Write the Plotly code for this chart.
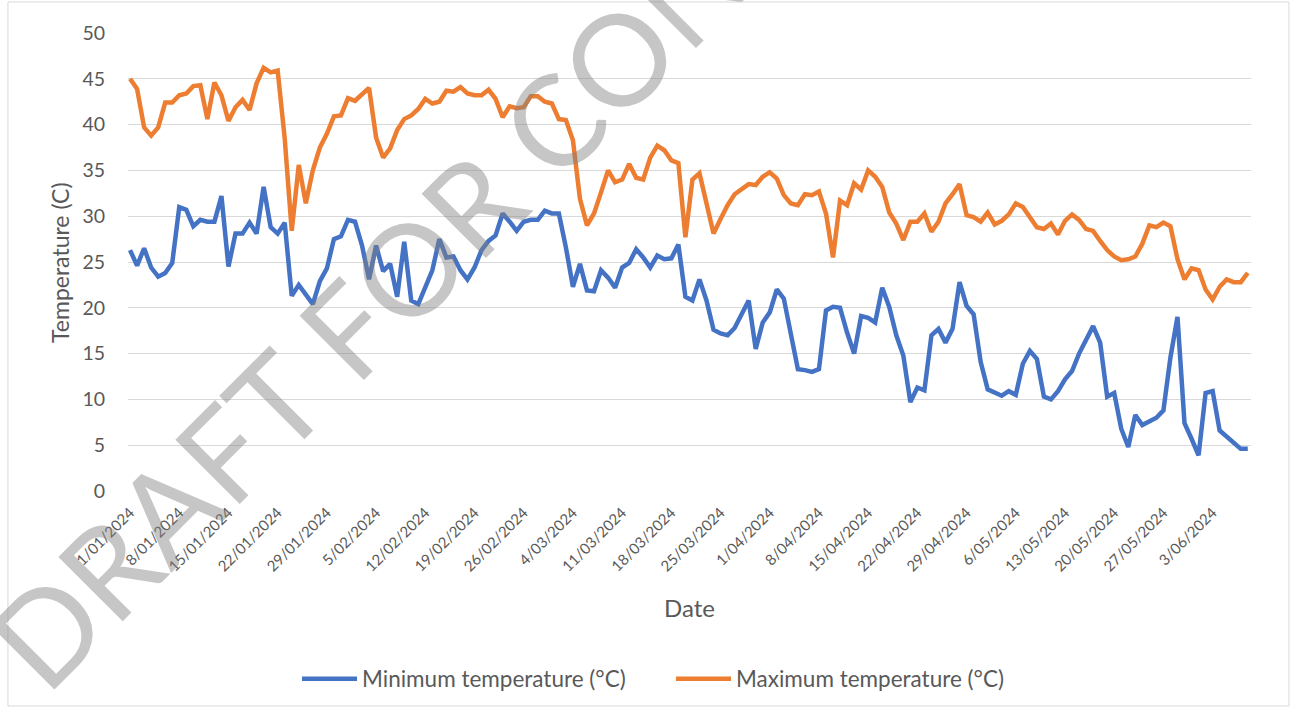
import datetime as dt
import plotly.graph_objects as go

start_date = dt.date(2024, 1, 1)

min_temp = [
    26.3, 24.6, 26.5, 24.4, 23.4, 23.8, 24.9, 31.0, 30.7, 28.9,
    29.6, 29.4, 29.4, 32.2, 24.5, 28.1, 28.1, 29.3, 28.1, 33.2,
    28.8, 28.1, 29.3, 21.3, 22.5, 21.5, 20.4, 22.9, 24.3, 27.5,
    27.8, 29.6, 29.4, 26.8, 23.1, 26.8, 24.0, 24.8, 21.2, 27.2,
    20.8, 20.4, 22.3, 24.1, 27.5, 25.5, 25.6, 24.1, 23.1, 24.4,
    26.3, 27.3, 27.9, 30.3, 29.4, 28.4, 29.4, 29.6, 29.6, 30.6,
    30.3, 30.3, 26.6, 22.3, 24.8, 21.9, 21.8, 24.1, 23.3, 22.2,
    24.4, 24.9, 26.4, 25.5, 24.4, 25.7, 25.3, 25.4, 26.9, 21.2,
    20.8, 23.1, 20.8, 17.6, 17.2, 17.0, 17.8, 19.2, 20.8, 15.5,
    18.4, 19.5, 22.0, 21.0, 17.2, 13.3, 13.2, 13.0, 13.3, 19.7,
    20.1, 20.0, 17.3, 15.0, 19.1, 18.9, 18.4, 22.2, 20.1, 17.0,
    14.8, 9.7, 11.3, 11.0, 17.0, 17.7, 16.2, 17.7, 22.8, 20.2,
    19.3, 14.1, 11.1, 10.7, 10.4, 10.9, 10.5, 13.9, 15.3, 14.4,
    10.3, 10.0, 10.9, 12.2, 13.1, 15.0, 16.6, 18.0, 16.2, 10.3,
    10.7, 6.8, 4.8, 8.3, 7.2, 7.6, 8.0, 8.8, 14.6, 19.0,
    7.4, 5.7, 3.9, 10.7, 10.9, 6.6, 5.9, 5.2, 4.6, 4.6,
]

max_temp = [
    45.0, 43.9, 39.7, 38.8, 39.7, 42.4, 42.4, 43.2, 43.4, 44.2,
    44.3, 40.6, 44.6, 43.2, 40.4, 41.9, 42.7, 41.6, 44.5, 46.2,
    45.7, 45.9, 38.5, 28.4, 35.6, 31.4, 35.0, 37.5, 39.0, 40.9,
    41.0, 42.9, 42.6, 43.3, 44.0, 38.6, 36.4, 37.4, 39.4, 40.6,
    41.0, 41.7, 42.8, 42.3, 42.5, 43.7, 43.6, 44.1, 43.4, 43.2,
    43.2, 43.8, 42.8, 40.8, 42.0, 41.8, 41.9, 43.1, 43.1, 42.5,
    42.3, 40.6, 40.5, 38.3, 31.9, 29.0, 30.3, 32.6, 35.0, 33.7,
    34.0, 35.7, 34.2, 34.0, 36.4, 37.7, 37.2, 36.1, 35.8, 27.7,
    34.0, 34.7, 31.5, 28.1, 29.7, 31.2, 32.4, 33.0, 33.5, 33.4,
    34.3, 34.8, 34.1, 32.3, 31.4, 31.2, 32.4, 32.3, 32.7, 30.3,
    25.5, 31.7, 31.2, 33.6, 32.9, 35.0, 34.3, 33.2, 30.4, 29.2,
    27.4, 29.4, 29.4, 30.3, 28.3, 29.4, 31.4, 32.4, 33.5, 30.1,
    29.9, 29.4, 30.4, 29.1, 29.5, 30.2, 31.4, 31.0, 29.9, 28.8,
    28.6, 29.2, 28.0, 29.5, 30.2, 29.6, 28.6, 28.4, 27.3, 26.3,
    25.6, 25.2, 25.3, 25.6, 27.0, 29.0, 28.8, 29.3, 28.9, 25.3,
    23.1, 24.3, 24.1, 22.0, 20.9, 22.3, 23.1, 22.8, 22.8, 23.8,
]

dates = [start_date + dt.timedelta(days=i) for i in range(len(min_temp))]

series_names = ["Minimum temperature (°C)", "Maximum temperature (°C)"]
series_colors = ["#4472C4", "#ED7D31"]

x_title = "Date"
y_title = "Temperature (C)"
watermark = "DRAFT FOR CONSULTATION"

FONT = "Lato"
GREY = "#595959"

fig = go.Figure()
for name, vals, col in zip(series_names, [min_temp, max_temp], series_colors):
    fig.add_trace(go.Scatter(
        x=dates, y=vals, mode="lines", name=name,
        line=dict(color=col, width=4.5),
    ))

W, H = 1291, 709
L, R, T, B = 128, 40, 33, 218

x0 = dt.datetime(2024, 1, 1) - dt.timedelta(hours=7)
x1 = dt.datetime(2024, 6, 8) + dt.timedelta(hours=11)

fig.update_layout(
    width=W, height=H,
    margin=dict(l=L, r=R, t=T, b=B, autoexpand=False),
    paper_bgcolor="white", plot_bgcolor="white",
    font=dict(family=FONT, color=GREY),
    showlegend=True,
    legend=dict(
        orientation="h", x=0.1505, xanchor="left", y=-0.4105, yanchor="middle",
        font=dict(size=22.5, color=GREY), itemwidth=55,
        entrywidth=304, entrywidthmode="pixels",
        bgcolor="rgba(0,0,0,0)",
    ),
    xaxis=dict(
        type="date", range=[x0, x1],
        tick0="2024-01-01", dtick=7 * 86400000, tickformat="%-d/%m/%Y",
        tickangle=-45, tickfont=dict(size=15, color=GREY),
        showgrid=False, zeroline=False, showline=False, ticks="",
        ticklabelstandoff=9,
    ),
    yaxis=dict(
        range=[0, 50], dtick=5, tick0=0,
        tickfont=dict(size=19.5, color=GREY),
        showgrid=True, gridcolor="#D9D9D9", gridwidth=1.3,
        zeroline=False, showline=False, ticks="", ticklen=0,
        ticklabelstandoff=22,
    ),
    annotations=[
        dict(text=x_title, xref="paper", yref="paper", x=0.5004, y=-0.2533,
             xanchor="center", yanchor="middle", showarrow=False,
             font=dict(size=24, color=GREY, family=FONT)),
        dict(text=y_title, xref="paper", yref="paper", x=-0.0606, y=0.5,
             xanchor="center", yanchor="middle", showarrow=False, textangle=-90,
             font=dict(size=23, color=GREY, family=FONT)),
        dict(text=watermark, xref="paper", yref="paper", x=-0.154, y=-0.50,
             xanchor="left", yanchor="bottom", showarrow=False, textangle=-45,
             font=dict(size=127, color="rgba(128,128,128,0.45)", family=FONT)),
    ],
    shapes=[
        dict(type="rect", xref="paper", yref="paper",
             x0=-0.1069, x1=1.0338, y0=-0.4694, y1=1.0677,
             line=dict(color="#D9D9D9", width=1), fillcolor="rgba(0,0,0,0)",
             layer="below"),
    ],
)

fig.write_html("out.html", config={"displayModeBar": False},
               post_script="document.body.style.margin='0';")
